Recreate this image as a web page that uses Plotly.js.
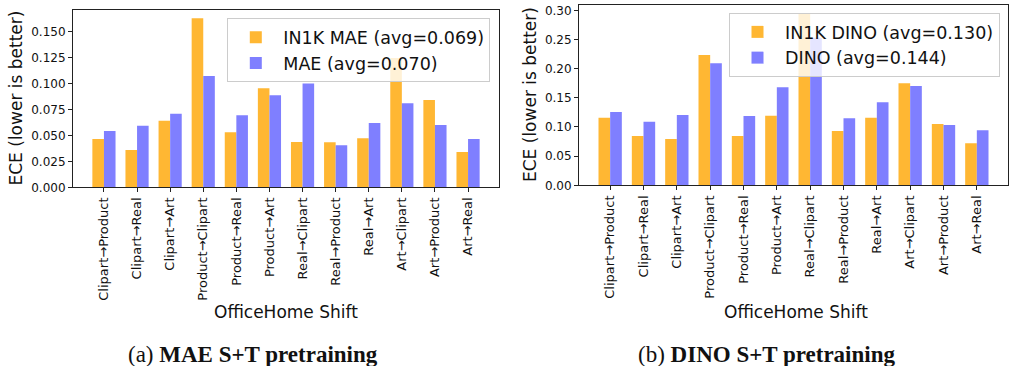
<!DOCTYPE html>
<html>
<head>
<meta charset="utf-8">
<script src="https://cdn.plot.ly/plotly-3.0.1.min.js"></script>
<style>html,body{margin:0;padding:0;background:#fff;}</style>
</head>
<body>
<div id="chart" style="width:1013px;height:366px;"></div>
<script>
const shifts = ["Clipart→Product","Clipart→Real","Clipart→Art","Product→Clipart","Product→Real","Product→Art","Real→Clipart","Real→Product","Real→Art","Art→Clipart","Art→Product","Art→Real"];
const maeIn1k = [0.0465,0.0359,0.0641,0.1625,0.0529,0.0952,0.0436,0.0433,0.0471,0.1244,0.0840,0.0340];
const maeST   = [0.0542,0.0593,0.0708,0.1071,0.0692,0.0885,0.0997,0.0404,0.0619,0.0808,0.0599,0.0465];
const dinoIn1k = [0.116,0.0846,0.0794,0.2234,0.0846,0.1194,0.295,0.0931,0.116,0.1749,0.1051,0.072];
const dinoST   = [0.1257,0.1091,0.1206,0.2091,0.1189,0.168,0.2531,0.1149,0.1423,0.1703,0.1034,0.0943];
const names = ["IN1K MAE (avg=0.069)","MAE (avg=0.070)","IN1K DINO (avg=0.130)","DINO (avg=0.144)"];
const captions = ["(a) <b>MAE S+T pretraining</b>","(b) <b>DINO S+T pretraining</b>"];
const xTitle = "OfficeHome Shift";
const yTitle = "ECE (lower is better)";

const ORANGE = "#FFB733", BLUE = "#7F7FFF";
const W = 1013, H = 366;
const FONT = "DejaVu Sans, sans-serif";
const SERIF = "Liberation Serif, Times New Roman, serif";

const traces = [
  {type:"bar", x:shifts, y:maeIn1k, name:names[0], marker:{color:ORANGE}, xaxis:"x", yaxis:"y", legend:"legend"},
  {type:"bar", x:shifts, y:maeST, name:names[1], marker:{color:BLUE}, xaxis:"x", yaxis:"y", legend:"legend"},
  {type:"bar", x:shifts, y:dinoIn1k, name:names[2], marker:{color:ORANGE}, xaxis:"x2", yaxis:"y2", legend:"legend2"},
  {type:"bar", x:shifts, y:dinoST, name:names[3], marker:{color:BLUE}, xaxis:"x2", yaxis:"y2", legend:"legend2"}
];

function xax(dom, anchor){
  return {domain:dom, anchor:anchor, type:"category", range:[-0.935, 11.935],
    showline:true, mirror:true, linecolor:"#222", linewidth:1, ticks:"outside", ticklen:4, tickcolor:"#222",
    tickangle:-90, tickfont:{family:FONT, size:13, color:"#111"}, showgrid:false, zeroline:false, fixedrange:true};
}
function yax(dom, anchor, range, dtick, fmt){
  return {domain:dom, anchor:anchor, range:range, dtick:dtick, tick0:0, tickformat:fmt,
    showline:true, mirror:true, linecolor:"#222", linewidth:1, ticks:"outside", ticklen:4, tickcolor:"#222",
    tickfont:{family:FONT, size:12, color:"#111"}, showgrid:false, zeroline:false, fixedrange:true};
}
function leg(x, y){
  return {x:x, y:y, xanchor:"left", yanchor:"top", bgcolor:"rgba(255,255,255,0.8)", bordercolor:"#cccccc", borderwidth:1,
    font:{family:FONT, size:17.5, color:"#111"}, itemwidth:45, traceorder:"normal"};
}
function ann(text, x, y, size, family, angle){
  return {text:text, xref:"paper", yref:"paper", x:x, y:y, textangle:angle||0, showarrow:false,
    xanchor:"center", yanchor:"middle", font:{family:family, size:size, color:"#111"}};
}

const layout = {
  width:W, height:H, margin:{l:0,r:0,t:0,b:0}, paper_bgcolor:"#fff", plot_bgcolor:"#fff",
  barmode:"group", bargap:0.3, bargroupgap:0, showlegend:true,
  font:{family:FONT, color:"#111"},
  xaxis: xax([73/W, 499/W], "y"),
  yaxis: yax([1-187.3/H, 1-10/H], "x", [0, 0.1705], 0.025, ".3f"),
  xaxis2: xax([579/W, 1008/W], "y2"),
  yaxis2: yax([1-185.3/H, 1-4.7/H], "x2", [0, 0.3097], 0.05, ".2f"),
  legend: leg(227.3/W, 1-18.3/H),
  legend2: leg(729/W, 1-13/H),
  annotations: [
    ann(yTitle, 15/W, 1-98.5/H, 17, FONT, -90),
    ann(yTitle, 530/W, 1-95/H, 17, FONT, -90),
    ann(xTitle, 286/W, 1-311.5/H, 17, FONT),
    ann(xTitle, 796/W, 1-311.5/H, 17, FONT),
    ann(captions[0], 253/W, 1-354/H, 23, SERIF),
    ann(captions[1], 766/W, 1-354/H, 23, SERIF)
  ]
};

Plotly.newPlot("chart", traces, layout, {staticPlot:true, displayModeBar:false});
</script>
</body>
</html>
